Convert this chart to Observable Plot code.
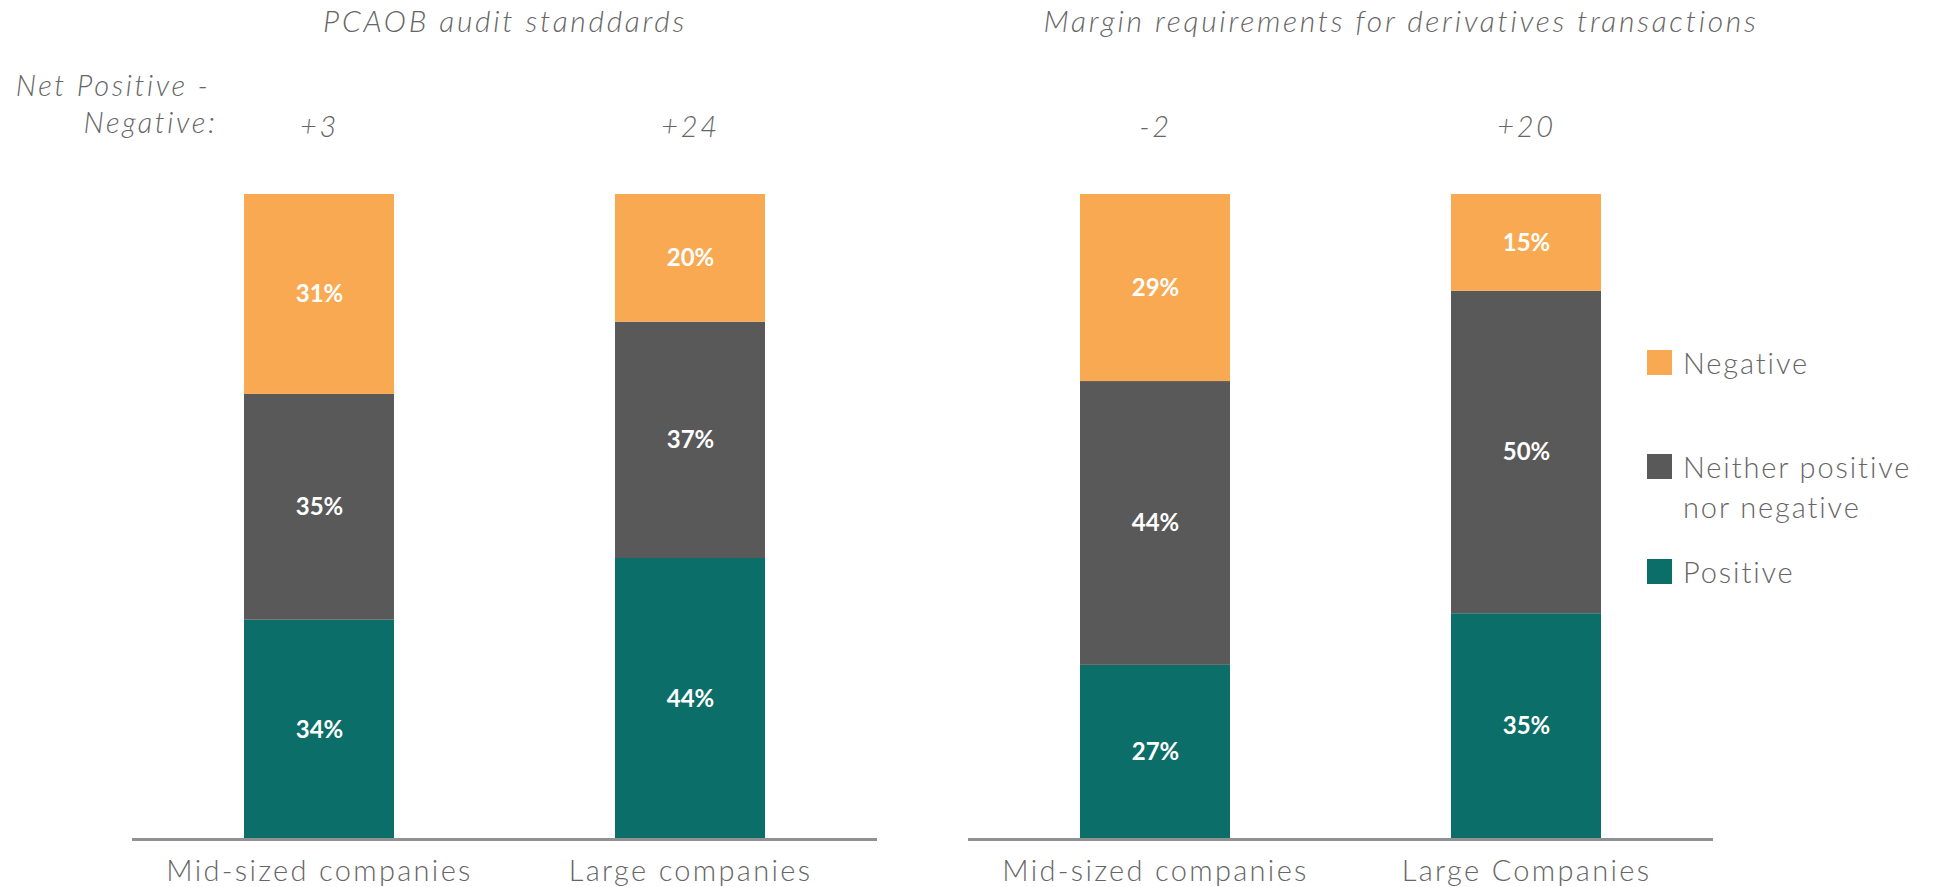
<!DOCTYPE html>
<html><head><meta charset="utf-8">
<script src="https://cdn.jsdelivr.net/npm/d3@7"></script>
<script src="https://cdn.jsdelivr.net/npm/@observablehq/plot@0.6"></script>
<style>
body{margin:0;background:#fff;font-family:Lato,"DejaVu Sans",sans-serif;}
#wrap{position:relative;width:1934px;height:887px;}
#wrap svg text{letter-spacing:0.08em;}
#wrap svg g[font-style="italic"] text{letter-spacing:0.09em;}
#wrap svg g[font-weight="700"] text{letter-spacing:0;}
#legend{position:absolute;left:1647px;top:0;font-family:Lato,sans-serif;font-weight:300;font-size:29px;color:#666;letter-spacing:0.065em;}
.item{position:absolute;left:0;display:flex;align-items:flex-start;white-space:nowrap;}
.sw{width:25px;height:25px;margin-top:7.5px;margin-right:11px;flex:none;}
.lab{line-height:40px;}
</style></head><body><div id="wrap"></div>
<script>
const panels = ["PCAOB audit standdards", "Margin requirements for derivatives transactions"];
const categoryKeys = ["mid", "large"];
const categoriesLeft = ["Mid-sized companies", "Large companies"];
const categoriesRight = ["Mid-sized companies", "Large Companies"];
const responses = ["Positive", "Neither positive nor negative", "Negative"];
const legendLabels = ["Negative", "Neither positive<br>nor negative", "Positive"];
const positiveValues = [34, 44, 27, 35];
const neitherValues = [35, 37, 44, 50];
const negativeValues = [31, 20, 29, 15];
const netLabels = ["+3", "+24", "-2", "+20"];
const colors = ["#0c6e68", "#595959", "#f9a952"];

const series = [positiveValues, neitherValues, negativeValues];
const rows = [];
const cats = [];
panels.forEach((panel, p) => {
  const labels = p === 0 ? categoriesLeft : categoriesRight;
  categoryKeys.forEach((key, c) => {
    const i = p * 2 + c;
    cats.push({panel, key, label: labels[c], net: netLabels[i]});
    series.forEach((vals, r) => rows.push({panel, key, response: responses[r], value: vals[i]}));
  });
});

const textGray = "#666";
const chart = Plot.plot({
  width: 1934, height: 887,
  marginLeft: 132, marginRight: 220, marginTop: 194, marginBottom: 48,
  fx: {domain: panels, paddingInner: 0.1088, paddingOuter: 0, axis: null},
  x: {domain: categoryKeys, paddingInner: 0.596, paddingOuter: 0.3, axis: null},
  y: {domain: [0, 1], axis: null},
  color: {domain: responses, range: colors},
  style: {fontFamily: "Lato, sans-serif", overflow: "visible"},
  marks: [
    Plot.barY(rows, Plot.stackY({fx: "panel", x: "key", y: "value", z: "response", fill: "response", offset: "normalize"})),
    Plot.text(rows, Plot.stackY({fx: "panel", x: "key", y: "value", z: "response", offset: "normalize",
      text: d => d.value + "%", fill: "white", fontWeight: 700, fontSize: 24})),
    Plot.ruleY([0], {stroke: "#8f9192", strokeWidth: 3}),
    Plot.text(cats, {fx: "panel", x: "key", text: "label", frameAnchor: "bottom", lineAnchor: "bottom", dy: 41,
      fontSize: 29, fontWeight: 300, fill: textGray}),
    Plot.text(cats, {fx: "panel", x: "key", text: "net", frameAnchor: "top", lineAnchor: "bottom", dy: -58,
      fontSize: 29, fontWeight: 300, fontStyle: "italic", fill: textGray}),
    Plot.text([panels[0]], {fx: d => d, text: d => d, frameAnchor: "top", lineAnchor: "bottom", dy: -163,
      fontSize: 30, fontWeight: 300, fontStyle: "italic", fill: textGray}),
    Plot.text([panels[1]], {fx: d => d, text: d => d, frameAnchor: "top", lineAnchor: "bottom", dy: -163, dx: 60,
      fontSize: 30, fontWeight: 300, fontStyle: "italic", fill: textGray}),
    Plot.text([{panel: panels[0], key: categoryKeys[0], t: "Net Positive -"}], {fx: "panel", x: "key", text: "t",
      frameAnchor: "top", lineAnchor: "bottom", textAnchor: "end", dx: -109, dy: -99,
      fontSize: 29, fontWeight: 300, fontStyle: "italic", fill: textGray}),
    Plot.text([{panel: panels[0], key: categoryKeys[0], t: "Negative:"}], {fx: "panel", x: "key", text: "t",
      frameAnchor: "top", lineAnchor: "bottom", textAnchor: "end", dx: -102, dy: -62,
      fontSize: 29, fontWeight: 300, fontStyle: "italic", fill: textGray})
  ]
});
const wrap = document.getElementById("wrap");
wrap.appendChild(chart);

const legend = document.createElement("div");
legend.id = "legend";
const legendColors = [colors[2], colors[1], colors[0]];
const legendTops = [342.5, 446.5, 551.5];
legendLabels.forEach((l, i) => {
  const it = document.createElement("div");
  it.className = "item";
  it.style.top = legendTops[i] + "px";
  it.innerHTML = `<div class="sw" style="background:${legendColors[i]}"></div><div class="lab">${l}</div>`;
  legend.appendChild(it);
});
wrap.appendChild(legend);
</script></body></html>
